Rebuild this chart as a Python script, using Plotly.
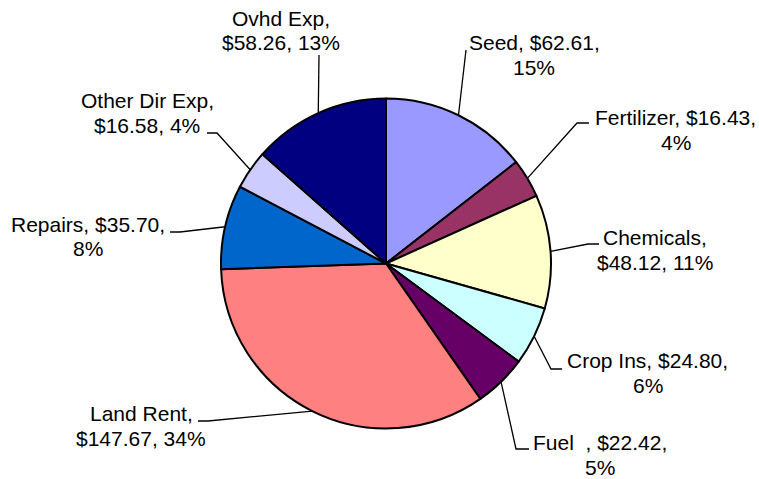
import math
import plotly.graph_objects as go

# ---- data ----
categories = ["Seed", "Fertilizer", "Chemicals", "Crop Ins", "Fuel\u00a0\u00a0", "Land Rent",
              "Repairs", "Other Dir Exp", "Ovhd Exp"]
values = [62.61, 16.43, 48.12, 24.80, 22.42, 147.67, 35.70, 16.58, 58.26]
pct_labels = [15, 4, 11, 6, 5, 34, 8, 4, 13]

# ---- styles / layout ----
colors = ["#9999FF", "#993366", "#FFFFCC", "#CCFFFF", "#660066", "#FF8080",
          "#0066CC", "#CCCCFF", "#000080"]
W, H = 759, 479
CX, CY, R = 386, 263.5, 165
FONT = "Liberation Sans, Arial, sans-serif"
FS = 21
GAP = 24.3
# parts in first text line
split = [2, 2, 1, 2, 2, 1, 2, 1, 1]
# label block: centre x, first baseline y (px)
label_pos = [(534, 50), (675.5, 125), (654.5, 245), (647.5, 368), (600, 450),
             (141, 421), (87.5, 232), (147, 108), (281, 26)]
# leader line: elbow (or None) and end point (px)
leader = [(None, (466, 50)), ((577, 123), (589, 123)), ((588, 244), (599, 244)),
          ((551, 369), (562, 369)), ((516, 449), (529, 449)), ((208, 421), (198, 421)),
          ((180, 232), (170, 232)), ((217, 133), (207, 133)), (None, (319, 55))]


def X(px):
    return px / W


def Y(py):
    return 1 - py / H


fig = go.Figure(go.Pie(
    labels=categories, values=values, sort=False, direction="clockwise", rotation=0,
    marker=dict(colors=colors, line=dict(color="black", width=2)),
    textinfo="none", showlegend=False,
    domain=dict(x=[X(CX - R), X(CX + R)], y=[Y(CY + R), Y(CY - R)]),
))

total = sum(values)
cum = 0.0
annotations = []
shapes = []
for i, (cat, v, p) in enumerate(zip(categories, values, pct_labels)):
    mid = (cum + v / 2) / total * 2 * math.pi
    cum += v
    sx = CX + R * math.sin(mid)
    sy = CY - R * math.cos(mid)
    elbow, end = leader[i]
    pts = [(sx, sy)] + ([elbow] if elbow else []) + [end]
    path = "M " + " L ".join(f"{X(a):.5f},{Y(b):.5f}" for a, b in pts)
    shapes.append(dict(type="path", xref="paper", yref="paper", path=path,
                       line=dict(color="black", width=1.3)))
    parts = [cat + ",", f"${v:.2f},", f"{p}%"]
    lines = [" ".join(parts[:split[i]]), " ".join(parts[split[i]:])]
    lx, ly = label_pos[i]
    for k, t in enumerate(lines):
        base = ly + k * GAP
        annotations.append(dict(
            x=X(lx), y=Y(base - 7.3), xref="paper", yref="paper", text=t,
            showarrow=False, xanchor="center", yanchor="middle", borderpad=0,
            font=dict(family=FONT, size=FS, color="black")))

fig.update_layout(
    width=W, height=H, margin=dict(l=0, r=0, t=0, b=0),
    paper_bgcolor="white", plot_bgcolor="white",
    annotations=annotations, shapes=shapes,
)
fig.write_html("out.html", config={"displayModeBar": False},
               post_script="document.body.style.margin='0';document.body.style.overflow='hidden';")
